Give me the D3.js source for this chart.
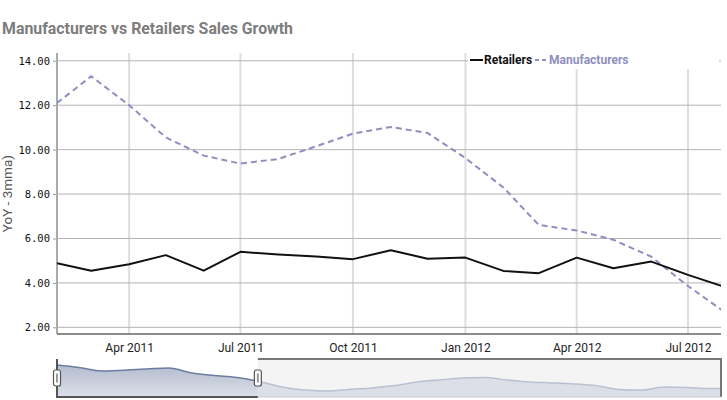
<!DOCTYPE html>
<html>
<head>
<meta charset="utf-8">
<script src="https://cdnjs.cloudflare.com/ajax/libs/d3/7.8.5/d3.min.js"></script>
<style>
body { margin: 0; background: #fff; }
svg { display: block; font-family: Roboto, sans-serif; }
</style>
</head>
<body>
<svg id="chart" width="727" height="400"></svg>
<script>
var months = ["2011-02", "2011-03", "2011-04", "2011-05", "2011-06", "2011-07", "2011-08", "2011-09", "2011-10",
              "2011-11", "2011-12", "2012-01", "2012-02", "2012-03", "2012-04", "2012-05", "2012-06", "2012-07", "2012-08"];
var retailers = [4.89, 4.55, 4.84, 5.25, 4.55, 5.40, 5.28, 5.19, 5.07, 5.47, 5.09, 5.14, 4.54, 4.44, 5.14, 4.66, 4.96, 4.36, 3.80];
var manufacturers = [12.10, 13.30, 12.00, 10.55, 9.73, 9.37, 9.58, 10.15, 10.72, 11.02, 10.75, 9.62, 8.30, 6.61, 6.36, 5.94, 5.18, 3.86, 2.65];
var yTicks = [2, 4, 6, 8, 10, 12, 14];
var viewEnd = "2012-07-28";

// overview series in the navigator, every 2nd month
var navValues = [11.8, 10.9, 9.6, 9.9, 10.3, 10.7, 8.8, 7.9, 7.2, 5.7, 3.7, 2.6, 2.2, 2.8, 3.3, 4.2,
                 5.5, 6.3, 7.0, 7.2, 6.3, 5.5, 5.2, 4.8, 4.1, 2.8, 2.6, 3.7, 3.5, 3.1, 3.1];
var navEnd = "2016-01-01";

var parseMonth = d3.timeParse("%Y-%m");
var parseDay = d3.timeParse("%Y-%m-%d");
var dates = months.map(parseMonth);

var svg = d3.select("#chart");

var pLeft = 57, pRight = 721, pTop = 53, pBottom = 334;

var x = d3.scaleTime()
    .domain([dates[0], parseDay(viewEnd)])
    .range([pLeft, pRight]);

var y = d3.scaleLinear()
    .domain([1.7, 14.35])
    .range([pBottom, pTop]);

// Title
svg.append("text")
    .attr("x", 2)
    .attr("y", 34)
    .attr("fill", "#7d7d7d")
    .attr("font-size", 16)
    .attr("font-weight", "bold")
    .attr("textLength", 291)
    .attr("lengthAdjust", "spacingAndGlyphs")
    .text("Manufacturers vs Retailers Sales Growth");

svg.append("clipPath").attr("id", "plotclip")
  .append("rect")
    .attr("x", pLeft).attr("y", pTop)
    .attr("width", pRight - pLeft).attr("height", pBottom - pTop);

var xTicks = x.ticks(d3.timeMonth.every(3));

// vertical grid
svg.append("g").selectAll("line")
    .data(xTicks)
    .enter().append("line")
    .attr("x1", function(d) { return x(d); })
    .attr("x2", function(d) { return x(d); })
    .attr("y1", pTop)
    .attr("y2", pBottom)
    .attr("stroke", "#dedede")
    .attr("stroke-width", 2);

// horizontal grid
svg.append("g").selectAll("line")
    .data(yTicks)
    .enter().append("line")
    .attr("x1", pLeft)
    .attr("x2", pRight)
    .attr("y1", function(d) { return y(d); })
    .attr("y2", function(d) { return y(d); })
    .attr("stroke", "#b4b4b4")
    .attr("stroke-width", 1);

// Y-axis
var yAxis = svg.append("g")
    .attr("transform", "translate(" + pLeft + ",0)")
    .call(d3.axisLeft(y).tickValues(yTicks).tickFormat(d3.format(".2f")).tickSize(4).tickPadding(3));
yAxis.select(".domain").remove();
yAxis.selectAll(".tick line").attr("stroke", "#999");
yAxis.selectAll(".tick text")
    .attr("font-family", "'DejaVu Sans Mono', monospace")
    .attr("font-size", 10.5)
    .attr("fill", "#111");

svg.append("line")
    .attr("x1", pLeft).attr("x2", pLeft)
    .attr("y1", pTop).attr("y2", pBottom)
    .attr("stroke", "#aaa")
    .attr("stroke-width", 2);

// X-axis
var xAxis = svg.append("g")
    .attr("transform", "translate(0," + pBottom + ")")
    .call(d3.axisBottom(x).tickValues(xTicks).tickFormat(d3.timeFormat("%b %Y")).tickSize(0).tickPadding(9.5));
xAxis.select(".domain").remove();
xAxis.selectAll(".tick text")
    .attr("font-family", "Roboto, sans-serif")
    .attr("font-size", 12)
    .attr("fill", "#222");

svg.append("line")
    .attr("x1", pLeft).attr("x2", pRight)
    .attr("y1", pBottom).attr("y2", pBottom)
    .attr("stroke", "#666")
    .attr("stroke-width", 1.5);

// Y title, cut off at the bottom like the original
svg.append("clipPath").attr("id", "ytitleclip")
  .append("rect").attr("x", 0).attr("y", 120).attr("width", 30).attr("height", 113);
svg.append("g")
    .attr("clip-path", "url(#ytitleclip)")
  .append("text")
    .attr("transform", "translate(12,155) rotate(-90)")
    .attr("text-anchor", "end")
    .attr("font-size", 13.5)
    .attr("fill", "#555")
    .text("Sales Growth (YoY - 3mma)");

// Lines
var line = d3.line()
    .x(function(d, i) { return x(dates[i]); })
    .y(function(d) { return y(d); });

var plot = svg.append("g").attr("clip-path", "url(#plotclip)");

plot.append("path")
    .datum(manufacturers)
    .attr("fill", "none")
    .attr("stroke", "#908ec0")
    .attr("stroke-width", 2)
    .attr("stroke-dasharray", "6,4")
    .attr("d", line);

plot.append("path")
    .datum(retailers)
    .attr("fill", "none")
    .attr("stroke", "#111")
    .attr("stroke-width", 2)
    .attr("stroke-linejoin", "round")
    .attr("d", line);

// Legend
var legend = svg.append("g");
legend.append("rect")
    .attr("x", 468).attr("y", 51)
    .attr("width", 251).attr("height", 18)
    .attr("fill", "#fff");
legend.append("line")
    .attr("x1", 470).attr("x2", 483).attr("y1", 60).attr("y2", 60)
    .attr("stroke", "#111").attr("stroke-width", 2);
legend.append("text")
    .attr("x", 484).attr("y", 64)
    .attr("font-size", 12).attr("font-weight", "bold").attr("fill", "#111")
    .text("Retailers");
legend.append("line")
    .attr("x1", 535).attr("x2", 548).attr("y1", 60).attr("y2", 60)
    .attr("stroke", "#908ec0").attr("stroke-width", 2).attr("stroke-dasharray", "4,3");
legend.append("text")
    .attr("x", 549).attr("y", 64)
    .attr("font-size", 12).attr("font-weight", "bold").attr("fill", "#908ec0")
    .text("Manufacturers");

// Navigator
var navTop = 359, navBottom = 397;
var navDates = navValues.map(function(d, i) { return d3.timeMonth.offset(dates[0], i * 2); });

var nx = d3.scaleTime()
    .domain([dates[0], parseDay(navEnd)])
    .range([pLeft, pRight]);
var ny = d3.scaleLinear()
    .domain([0, 14])
    .range([navBottom, navTop]);

var selA = nx(x.domain()[0]), selB = nx(x.domain()[1]);

var defs = svg.append("defs");
var grad = defs.append("linearGradient").attr("id", "navgrad").attr("x1", 0).attr("y1", 0).attr("x2", 0).attr("y2", 1);
grad.append("stop").attr("offset", "0%").attr("stop-color", "#b3bbcf");
grad.append("stop").attr("offset", "100%").attr("stop-color", "#dde0e8");

defs.append("clipPath").attr("id", "navclip")
  .append("rect").attr("x", pLeft).attr("y", navTop).attr("width", pRight - pLeft).attr("height", navBottom - navTop);
defs.append("clipPath").attr("id", "selclip")
  .append("rect").attr("x", selA).attr("y", navTop - 5).attr("width", selB - selA).attr("height", navBottom - navTop + 5);
defs.append("clipPath").attr("id", "unselclip")
  .append("rect").attr("x", selB).attr("y", navTop).attr("width", pRight - selB).attr("height", navBottom - navTop);

// unselected background
svg.append("rect")
    .attr("x", selB).attr("y", navTop)
    .attr("width", pRight - selB).attr("height", navBottom - navTop)
    .attr("fill", "#f4f4f4");

var navArea = d3.area()
    .x(function(d, i) { return nx(navDates[i]); })
    .y0(navBottom)
    .y1(function(d) { return ny(d); })
    .curve(d3.curveMonotoneX);
var navLine = navArea.lineY1();

var navG = svg.append("g").attr("clip-path", "url(#navclip)");
var unsel = navG.append("g").attr("clip-path", "url(#unselclip)");
unsel.append("path").datum(navValues).attr("fill", "#dcdfe7").attr("d", navArea);
unsel.append("path").datum(navValues).attr("fill", "none").attr("stroke", "#b9c0cf").attr("stroke-width", 1.5).attr("d", navLine);

var sel = svg.append("g").attr("clip-path", "url(#selclip)");
sel.append("path").datum(navValues).attr("fill", "url(#navgrad)").attr("d", navArea);
sel.append("path").datum(navValues).attr("fill", "none").attr("stroke", "#6c7ca0").attr("stroke-width", 1.5).attr("d", navLine);

// navigator outline
svg.append("path")
    .attr("d", "M" + selB + "," + navTop + "H" + pRight + "V" + navBottom)
    .attr("fill", "none").attr("stroke", "#777").attr("stroke-width", 2);
svg.append("path")
    .attr("d", "M" + selA + "," + navTop + "V" + navBottom + "H" + selB)
    .attr("fill", "none").attr("stroke", "#555").attr("stroke-width", 2);
svg.append("line")
    .attr("x1", selB).attr("x2", pRight).attr("y1", navBottom).attr("y2", navBottom)
    .attr("stroke", "#ccc").attr("stroke-width", 1);

// handles
var handles = svg.append("g").selectAll("g")
    .data([selA, selB])
    .enter().append("g")
    .attr("transform", function(d) { return "translate(" + d + "," + (navTop + navBottom) / 2 + ")"; });
handles.append("rect")
    .attr("x", -3.5).attr("y", -8)
    .attr("width", 7).attr("height", 16)
    .attr("rx", 2)
    .attr("fill", "#fff").attr("stroke", "#555").attr("stroke-width", 1.2);
handles.append("line")
    .attr("x1", 0).attr("x2", 0).attr("y1", -4.5).attr("y2", 4.5)
    .attr("stroke", "#999").attr("stroke-width", 2);
</script>
</body>
</html>
